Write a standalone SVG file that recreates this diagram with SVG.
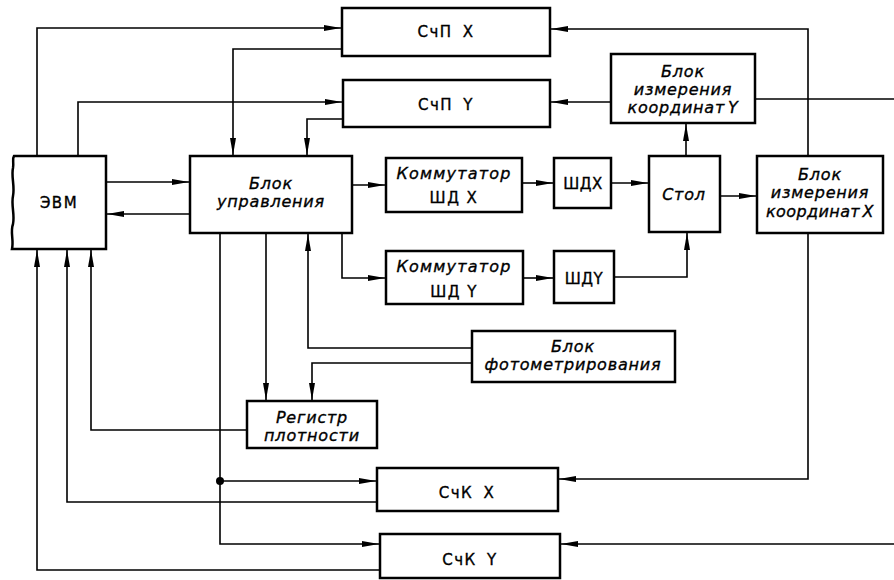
<svg xmlns="http://www.w3.org/2000/svg" width="894" height="580" viewBox="0 0 894 580">
<style>
.box{fill:#fff;stroke:#000;stroke-width:2.5}
.ln{fill:none;stroke:#000;stroke-width:1.6}
.t{font-family:"DejaVu Sans","Liberation Sans",sans-serif;font-size:15px;letter-spacing:1.5px;text-anchor:middle;fill:#000;stroke:#000;stroke-width:0.35}
.i{font-family:"DejaVu Sans","Liberation Sans",sans-serif;font-style:italic;font-size:16px;letter-spacing:0.8px;text-anchor:middle;fill:#000;stroke:#000;stroke-width:0.35}
</style>
<defs>
<marker id="a" markerUnits="userSpaceOnUse" markerWidth="18" markerHeight="8" refX="17" refY="4" orient="auto">
<path d="M0,1 L17,4 L0,7 Z" fill="#000"/>
</marker>
</defs>
<rect width="894" height="580" fill="#fff"/>

<g id="connectors">
<path class="ln" d="M37,156 V28 H341" marker-end="url(#a)"/>
<path class="ln" d="M342,49 H233 V155" marker-end="url(#a)"/>
<path class="ln" d="M78,156 V102 H342" marker-end="url(#a)"/>
<path class="ln" d="M343,119 H307 V155" marker-end="url(#a)"/>
<path class="ln" d="M106,182 H189" marker-end="url(#a)"/>
<path class="ln" d="M190,214 H107" marker-end="url(#a)"/>
<path class="ln" d="M352,185 H385" marker-end="url(#a)"/>
<path class="ln" d="M522,183 H553" marker-end="url(#a)"/>
<path class="ln" d="M611,183 H648" marker-end="url(#a)"/>
<path class="ln" d="M720,196 H756" marker-end="url(#a)"/>
<path class="ln" d="M686,156 V124" marker-end="url(#a)"/>
<path class="ln" d="M611,102 H551" marker-end="url(#a)"/>
<path class="ln" d="M755,99 H894"/>
<path class="ln" d="M808,156 V29 H551" marker-end="url(#a)"/>
<path class="ln" d="M808,233 V479 H559" marker-end="url(#a)"/>
<path class="ln" d="M894,544 H561" marker-end="url(#a)"/>
<path class="ln" d="M342,233 V278 H385" marker-end="url(#a)"/>
<path class="ln" d="M523,278 H553" marker-end="url(#a)"/>
<path class="ln" d="M614,277 H687 V233" marker-end="url(#a)"/>
<path class="ln" d="M472,348 H308 V234" marker-end="url(#a)"/>
<path class="ln" d="M472,363 H312 V400" marker-end="url(#a)"/>
<path class="ln" d="M266,233 V400" marker-end="url(#a)"/>
<path class="ln" d="M220,233 V544 H379" marker-end="url(#a)"/>
<path class="ln" d="M220,481 H376" marker-end="url(#a)"/>
<circle cx="220" cy="481" r="4" fill="#000"/>
<path class="ln" d="M247,430 H91 V250" marker-end="url(#a)"/>
<path class="ln" d="M377,502 H67 V250" marker-end="url(#a)"/>
<path class="ln" d="M380,570 H37 V250" marker-end="url(#a)"/>
</g>

<g id="evm">
<path class="box" d="M14,156 L106,156 L106,249 L12,249 C14,240 10,232 13,224 C15,215 11,205 13,196 C15,186 11,176 13,168 C14,162 12,159 14,156 Z"/>
<text class="t" x="59" y="208">ЭВМ</text>
</g>
<g id="block-upr">
<rect class="box" x="190" y="156" width="162" height="77"/>
<text class="i" x="271" y="189">Блок</text>
<text class="i" x="271" y="207">управления</text>
</g>
<g id="schp-x">
<rect class="box" x="342" y="8" width="208" height="48"/>
<text class="t" x="446" y="37" word-spacing="4">СчП X</text>
</g>
<g id="schp-y">
<rect class="box" x="343" y="80" width="207" height="47"/>
<text class="t" x="446" y="110" word-spacing="4">СчП Y</text>
</g>
<g id="komm-x">
<rect class="box" x="386" y="158" width="136" height="54"/>
<text class="i" x="454" y="179" style="letter-spacing:1.2px">Коммутатор</text>
<text class="t" x="454" y="203">ШД X</text>
</g>
<g id="shd-x">
<rect class="box" x="554" y="158" width="57" height="50"/>
<text class="t" x="583" y="189" style="letter-spacing:0.5px">ШДX</text>
</g>
<g id="komm-y">
<rect class="box" x="386" y="251" width="137" height="53"/>
<text class="i" x="454" y="272" style="letter-spacing:1.2px">Коммутатор</text>
<text class="t" x="454" y="297">ШД Y</text>
</g>
<g id="shd-y">
<rect class="box" x="554" y="251" width="60" height="52"/>
<text class="t" x="584" y="284" style="letter-spacing:0.5px">ШДY</text>
</g>
<g id="stol">
<rect class="box" x="649" y="156" width="71" height="76"/>
<text class="i" x="684" y="200">Стол</text>
</g>
<g id="izm-y">
<rect class="box" x="611" y="54" width="144" height="69"/>
<text class="i" x="683" y="77">Блок</text>
<text class="i" x="683" y="95">измерения</text>
<text class="i" x="683" y="113" word-spacing="-3">координат Y</text>
</g>
<g id="izm-x">
<rect class="box" x="757" y="156" width="126" height="77"/>
<text class="i" x="820" y="180">Блок</text>
<text class="i" x="820" y="198">измерения</text>
<text class="i" x="820" y="217" word-spacing="-3" style="letter-spacing:0.4px">координат X</text>
</g>
<g id="foto">
<rect class="box" x="472" y="331" width="203" height="51"/>
<text class="i" x="573" y="352">Блок</text>
<text class="i" x="573" y="370">фотометрирования</text>
</g>
<g id="registr">
<rect class="box" x="247" y="401" width="130" height="47"/>
<text class="i" x="312" y="423">Регистр</text>
<text class="i" x="312" y="441">плотности</text>
</g>
<g id="schk-x">
<rect class="box" x="377" y="468" width="181" height="43"/>
<text class="t" x="467" y="498" word-spacing="4">СчК X</text>
</g>
<g id="schk-y">
<rect class="box" x="380" y="534" width="180" height="44"/>
<text class="t" x="470" y="565" word-spacing="4">СчК Y</text>
</g>
</svg>
